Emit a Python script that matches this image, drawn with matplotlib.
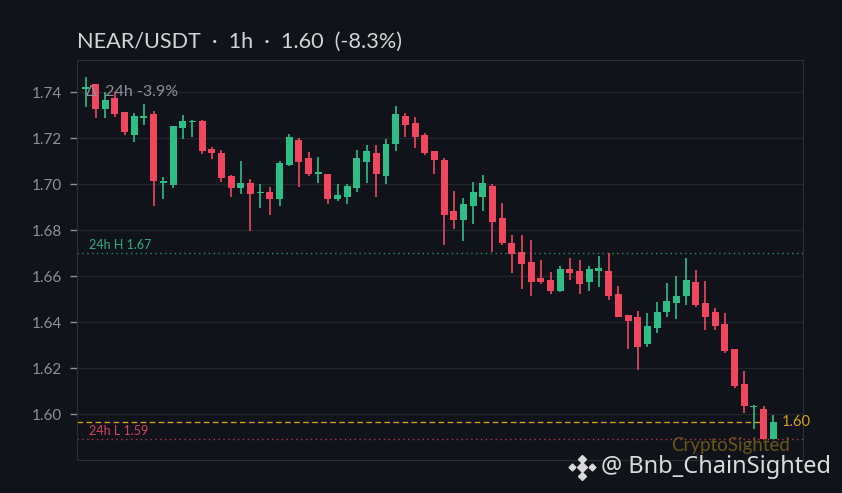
import matplotlib.pyplot as plt
import numpy as np

# OHLC, 1h candles
opens = [1.7413, 1.7435, 1.7326, 1.7375, 1.7313, 1.7214, 1.7288, 1.7304, 1.7005, 1.6997,
         1.7245, 1.7268, 1.7274, 1.7152, 1.7135, 1.7035, 1.6984, 1.7004, 1.6960, 1.6965,
         1.6935, 1.7084, 1.7191, 1.7113, 1.7045, 1.7043, 1.6935, 1.6945, 1.6984, 1.7097,
         1.7135, 1.7036, 1.7175, 1.7296, 1.7265, 1.7213, 1.7143, 1.7106, 1.6883, 1.6843,
         1.6906, 1.6945, 1.6991, 1.6852, 1.6743, 1.6704, 1.6661, 1.6593, 1.6583, 1.6536,
         1.6630, 1.6622, 1.6575, 1.6623, 1.6622, 1.6522, 1.6430, 1.6422, 1.6306, 1.6376,
         1.6445, 1.6484, 1.6514, 1.6574, 1.6483, 1.6443, 1.6391, 1.6284, 1.6130, 1.6030,
         1.6022, 1.5893]
highs = [1.7464, 1.7435, 1.7399, 1.7399, 1.7313, 1.7310, 1.7349, 1.7319, 1.7032, 1.7252,
         1.7301, 1.7280, 1.7278, 1.7162, 1.7150, 1.7040, 1.7101, 1.7020, 1.7000, 1.6988,
         1.7101, 1.7219, 1.7201, 1.7140, 1.7119, 1.7043, 1.6999, 1.6999, 1.7148, 1.7170,
         1.7170, 1.7197, 1.7340, 1.7310, 1.7291, 1.7220, 1.7143, 1.7113, 1.6971, 1.6940,
         1.7009, 1.7040, 1.7000, 1.6919, 1.6780, 1.6780, 1.6758, 1.6671, 1.6617, 1.6643,
         1.6680, 1.6671, 1.6643, 1.6688, 1.6701, 1.6556, 1.6430, 1.6448, 1.6439, 1.6487,
         1.6570, 1.6600, 1.6680, 1.6626, 1.6578, 1.6461, 1.6441, 1.6284, 1.6188, 1.6041,
         1.6037, 1.5996]
lows = [1.7336, 1.7286, 1.7286, 1.7290, 1.7213, 1.7183, 1.7257, 1.6904, 1.6935, 1.6984,
        1.7197, 1.7206, 1.7130, 1.7110, 1.7009, 1.6945, 1.6957, 1.6797, 1.6897, 1.6865,
        1.6904, 1.7080, 1.6985, 1.7035, 1.7006, 1.6913, 1.6926, 1.6913, 1.6965, 1.7006,
        1.6945, 1.6999, 1.7143, 1.7204, 1.7157, 1.7127, 1.7043, 1.6735, 1.6803, 1.6752,
        1.6826, 1.6884, 1.6706, 1.6735, 1.6614, 1.6545, 1.6514, 1.6567, 1.6523, 1.6530,
        1.6584, 1.6523, 1.6536, 1.6553, 1.6497, 1.6423, 1.6283, 1.6193, 1.6293, 1.6353,
        1.6423, 1.6414, 1.6475, 1.6467, 1.6367, 1.6367, 1.6267, 1.6114, 1.6003, 1.5936,
        1.5893, 1.5893]
closes = [1.7422, 1.7326, 1.7365, 1.7304, 1.7226, 1.7296, 1.7296, 1.7014, 1.7012, 1.7252,
          1.7274, 1.7275, 1.7145, 1.7136, 1.7028, 1.6984, 1.7004, 1.6958, 1.6965, 1.6936,
          1.7091, 1.7204, 1.7097, 1.7045, 1.7053, 1.6935, 1.6952, 1.6991, 1.7113, 1.7143,
          1.7045, 1.7174, 1.7304, 1.7258, 1.7204, 1.7136, 1.7104, 1.6865, 1.6843, 1.6913,
          1.6965, 1.7004, 1.6836, 1.6745, 1.6697, 1.6654, 1.6575, 1.6575, 1.6536, 1.6630,
          1.6614, 1.6567, 1.6630, 1.6635, 1.6514, 1.6423, 1.6406, 1.6293, 1.6383, 1.6443,
          1.6491, 1.6513, 1.6583, 1.6475, 1.6423, 1.6384, 1.6275, 1.6123, 1.6036, 1.6034,
          1.5893, 1.5967]
yticks = [1.60, 1.62, 1.64, 1.66, 1.68, 1.70, 1.72, 1.74]
change_24h = -3.9

BG = '#10131a'
UP = '#2ebd85'
DOWN = '#f0475e'

o = np.array(opens); h = np.array(highs); l = np.array(lows); c = np.array(closes)
x = np.arange(len(o))
cols = np.where(c >= o, UP, DOWN)

fig = plt.figure(figsize=(8.42, 4.93), dpi=100, facecolor=BG)
ax = fig.add_axes([0.092, 0.0663, 0.8614, 0.8114], facecolor=BG)

ax.vlines(x, l, h, colors=cols, linewidth=1.2, zorder=3)
body = np.maximum(np.abs(c - o), 0.0005)
ax.bar(x, body, bottom=np.minimum(o, c), width=0.72, color=cols, zorder=4, linewidth=0)

ax.set_xlim(-0.87, 74.05)
ax.set_ylim(1.5799, 1.7538)
ax.set_yticks(yticks)
ax.set_yticklabels([f'{v:.2f}' for v in yticks], fontfamily='Lato')
ax.set_xticks([])
ax.tick_params(axis='y', colors='#8d9098', labelsize=11, length=5, width=1, pad=6)
ax.grid(axis='y', color='#22252c', linewidth=1)
ax.set_axisbelow(True)
for s in ax.spines.values():
    s.set_color('#2b2e36')

# 24h levels
last24 = slice(len(o) - 24, None)
hi24, lo24 = h[last24].max(), l[last24].min()
ax.axhline(hi24, color='#2a8a66', linestyle=(0, (1, 2.5)), linewidth=1, zorder=2)
ax.axhline(lo24, color='#b8394c', linestyle=(0, (1, 2.5)), linewidth=1, zorder=2)
ax.text(0.3, hi24 + 0.0008, f'24h H {hi24:.2f}', color='#2fae7c', fontsize=9,
        fontfamily='Lato', va='bottom')
ax.text(0.3, lo24 + 0.0008, f'24h L {lo24:.2f}', color='#d9435a', fontsize=9,
        fontfamily='Lato', va='bottom')

# last price line
last = c[-1]
ax.axhline(last, xmax=0.945, color='#d4a017', linestyle=(0, (4, 2.5)), linewidth=1, zorder=2)
ax.text(71.9, last, f'{last:.2f}', color='#d4a017', fontsize=10.5, fontfamily='Lato',
        va='center', ha='left', zorder=5)
ax.text(72.7, lo24 - 0.0028, 'CryptoSighted', color='#6a5518', fontsize=13.5,
        fontfamily='Lato', va='center', ha='right', zorder=1)

ax.text(0.0, 1.7398, f'Δ  24h {change_24h:.1f}%', color='#8d9098', fontsize=11.5,
        fontfamily='Lato', va='center', zorder=5)

chg = (c[-1] / o[0] - 1) * 100
fig.text(77 / 842, 1 - 42 / 493, f'NEAR/USDT  ·  1h  ·  {last:.2f}  ({chg:.1f}%)',
         color='#d4d4d4', fontsize=15.6, fontfamily='Lato', va='center', ha='left')

# watermark
cx, cy = 582 / 842, 1 - 467 / 493
dx, dy = 10 / 842, 10 / 493
fig.add_artist(plt.Line2D([cx], [cy], marker='D', markersize=5, color='#d9d9d9',
                          transform=fig.transFigure, linestyle='none'))
for px, py, ms in [(-dx, 0, 3.5), (dx, 0, 3.5), (0, dy * 0.85, 4.5), (0, -dy * 0.85, 4.5)]:
    fig.add_artist(plt.Line2D([cx + px], [cy + py], marker='D', markersize=ms,
                              color='#d9d9d9', transform=fig.transFigure, linestyle='none'))
fig.text(601 / 842, cy, '@ Bnb_ChainSighted', color='#dcdcdc', fontsize=17,
         fontfamily='Noto Sans', va='center', ha='left')

fig.savefig('out.png', dpi=100, facecolor=BG)
